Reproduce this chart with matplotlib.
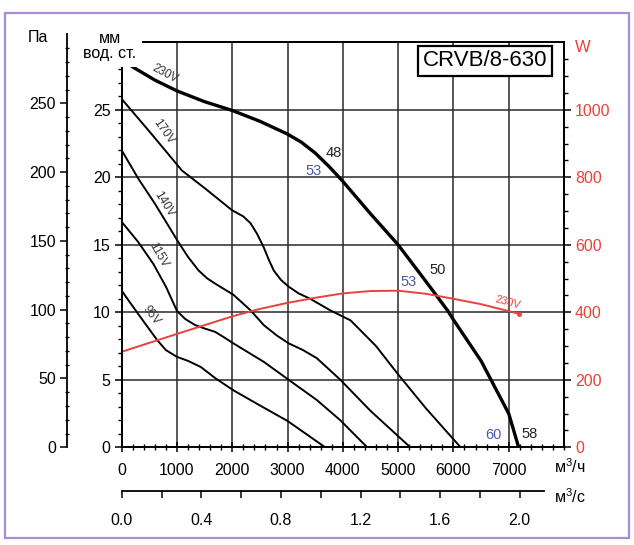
import matplotlib.pyplot as plt
from matplotlib.patches import Rectangle
from matplotlib.ticker import FixedLocator, MultipleLocator

plt.rcParams['font.family'] = ['Liberation Sans', 'DejaVu Sans']
plt.rcParams['mathtext.default'] = 'regular'

# fan curves, flow in m3/h, pressure in mm water column
flow_230 = [0, 270, 600, 1000, 1500, 2000, 2500, 3000, 3250, 3500, 3750, 4000, 4500, 5000, 5500,
            5900, 6000, 6500, 7000, 7180]
mm_230 = [28.7, 28.0, 27.2, 26.4, 25.6, 24.95, 24.15, 23.2, 22.6, 21.8, 20.8, 19.7, 17.3, 15.0, 12.3,
          10.1, 9.45, 6.4, 2.5, 0]

flow_170 = [0, 500, 1090, 1500, 2000, 2200, 2330, 2450, 2570, 2660, 2750, 2880, 3020, 3200, 3410,
            3770, 4140, 4600, 5000, 5500, 6130]
mm_170 = [25.8, 23.4, 20.5, 19.2, 17.55, 17.1, 16.6, 15.8, 14.8, 13.9, 13.1, 12.4, 11.9, 11.4, 11.0,
          10.15, 9.4, 7.5, 5.4, 2.9, 0]

flow_140 = [0, 300, 600, 1025, 1200, 1390, 1550, 1700, 2020, 2330, 2570, 2800, 3020, 3280, 3530,
            3955, 4500, 5220]
mm_140 = [22.0, 19.9, 18.05, 15.2, 14.1, 13.1, 12.5, 12.1, 11.3, 10.15, 9.05, 8.3, 7.7, 7.2, 6.6,
          5.0, 2.7, 0]

flow_115 = [0, 300, 570, 800, 900, 1000, 1150, 1330, 1500, 1690, 1850, 2020, 2570, 3020, 3530,
            3955, 4440]
mm_115 = [16.7, 15.2, 13.6, 11.9, 11.0, 10.1, 9.5, 9.05, 8.8, 8.55, 8.15, 7.7, 6.33, 5.0, 3.5,
          2.0, 0]

flow_95 = [0, 120, 400, 650, 800, 1000, 1200, 1430, 1700, 2030, 2500, 3000, 3680]
mm_95 = [11.6, 10.9, 9.3, 7.9, 7.2, 6.7, 6.4, 5.95, 5.1, 4.2, 3.1, 1.95, 0]

# power at 230V, W
flow_pw = [0, 660, 1000, 1500, 2000, 2500, 3000, 3500, 4000, 4500, 5000, 5500, 6000, 6500, 7180]
power_w = [283, 318, 336, 362, 388, 410, 428, 443, 456, 463, 464, 455, 440, 424, 396]

x_ticks = [0, 1000, 2000, 3000, 4000, 5000, 6000, 7000]
mm_ticks = [0, 5, 10, 15, 20, 25]
pa_ticks = [0, 50, 100, 150, 200, 250]
w_ticks = [0, 200, 400, 600, 800, 1000]
ms_ticks = [0.0, 0.4, 0.8, 1.2, 1.6, 2.0]

W, H = 634, 545
fig = plt.figure(figsize=(W / 100, H / 100), dpi=100)


def fx(px):
    return px / W


def fy(py):
    return 1 - py / H


x0, x1 = 121.7, 564
y0, y1 = 447.3, 42.3
red = '#e8423a'
fs = 11.5

ax = fig.add_axes([fx(x0), fy(y0), fx(x1) - fx(x0), fy(y1) - fy(y0)])
ax.set_xlim(0, 8000)
ax.set_ylim(0, 30)
ax.xaxis.set_major_locator(FixedLocator(x_ticks))
ax.xaxis.set_minor_locator(MultipleLocator(200))
ax.yaxis.set_major_locator(FixedLocator(mm_ticks))
ax.yaxis.set_minor_locator(MultipleLocator(1))
ax.grid(True, which='major', color='#2a2a2a', lw=1.1)
for s in ax.spines.values():
    s.set_linewidth(1.3)
ax.tick_params(axis='x', which='major', direction='inout', length=7, width=1.1,
               labelsize=fs, pad=8)
ax.tick_params(axis='x', which='minor', direction='inout', length=4, width=1)
ax.tick_params(axis='y', which='major', direction='out', length=5, width=1.1,
               labelsize=fs, pad=3)
ax.tick_params(axis='y', which='minor', direction='out', length=3, width=1)

ax.plot(flow_230, mm_230, color='black', lw=2.4, solid_capstyle='round', solid_joinstyle='round')
for f, m in [(flow_170, mm_170), (flow_140, mm_140), (flow_115, mm_115), (flow_95, mm_95)]:
    ax.plot(f, m, color='black', lw=1.4, solid_joinstyle='round')

lab_kw = dict(fontsize=8.5, color='#333333', ha='center', va='center')
ax.text(790, 27.7, '230V', rotation=-28, **lab_kw)
ax.text(760, 23.4, '170V', rotation=-55, **lab_kw)
ax.text(760, 18.0, '140V', rotation=-58, **lab_kw)
ax.text(660, 14.2, '115V', rotation=-60, **lab_kw)
ax.text(540, 9.8, '95V', rotation=-52, **lab_kw)

num_kw = dict(fontsize=10.5, ha='center', va='center')
ax.text(3844, 21.8, '48', color='#222222', **num_kw)
ax.text(3471, 20.5, '53', color='#4a5aa8', **num_kw)
ax.text(5707, 13.1, '50', color='#222222', **num_kw)
ax.text(5192, 12.25, '53', color='#4a5aa8', **num_kw)
ax.text(6732, 0.9, '60', color='#4a5aa8', **num_kw)
ax.text(7384, 1.0, '58', color='#222222', **num_kw)

# power axis
ax_w = ax.twinx()
ax_w.set_ylim(0, 1200)
ax_w.plot(flow_pw, power_w, color=red, lw=1.4)
ax_w.plot(flow_pw[-1], power_w[-1], 'o', color=red, ms=2.5)
ax_w.text(6980, 430, '230V', rotation=-15, fontsize=8, color=red, ha='center', va='center')
ax_w.yaxis.set_major_locator(FixedLocator(w_ticks))
ax_w.yaxis.set_minor_locator(FixedLocator([v for v in range(50, 1200, 50) if v % 200]))
ax_w.tick_params(axis='y', which='major', direction='out', length=5, width=1.1,
                 labelsize=fs, labelcolor=red, pad=3)
ax_w.tick_params(axis='y', which='minor', direction='out', length=3, width=1)
for s in ax_w.spines.values():
    s.set_linewidth(1.3)

# Pa axis
mm_px = (y0 - y1) / 30
pa_top = y0 - 300 / 9.81 * mm_px
ax_pa = fig.add_axes([fx(67), fy(y0), 0.0001, fy(pa_top) - fy(y0)])
ax_pa.set_ylim(0, 300)
ax_pa.patch.set_visible(False)
for k in ['top', 'right', 'bottom']:
    ax_pa.spines[k].set_visible(False)
ax_pa.spines['left'].set_linewidth(1.3)
ax_pa.set_xticks([])
ax_pa.yaxis.set_major_locator(FixedLocator(pa_ticks))
ax_pa.yaxis.set_minor_locator(FixedLocator([v for v in range(10, 300, 10) if v % 50]))
ax_pa.tick_params(axis='y', which='major', direction='out', length=5, width=1.1,
                  labelsize=fs, pad=3)
ax_pa.tick_params(axis='y', which='minor', direction='inout', length=3, width=1)

# m3/s axis
ax_s = fig.add_axes([fx(x0), fy(491), fx(x1) - fx(x0), 0.0001])
ax_s.set_xlim(0, 8000 / 3600)
ax_s.patch.set_visible(False)
for k in ['top', 'right', 'left']:
    ax_s.spines[k].set_visible(False)
ax_s.spines['bottom'].set_linewidth(1.3)
ax_s.spines['bottom'].set_bounds(0, 2.12)
ax_s.set_yticks([])
ax_s.xaxis.set_major_locator(FixedLocator(ms_ticks))
ax_s.xaxis.set_major_formatter(lambda v, p: f'{v:.1f}')
ax_s.xaxis.set_minor_locator(FixedLocator([0.2, 0.6, 1.0, 1.4, 1.8]))
ax_s.tick_params(axis='x', which='both', direction='out', length=5, width=1.1,
                 labelsize=fs, pad=11)

# texts
fig.text(fx(38), fy(38), 'Па', fontsize=fs, ha='center', va='center')
fig.text(fx(110), fy(46), 'мм\nвод. ст.', fontsize=fs, ha='center', va='center',
         linespacing=1.05, bbox=dict(boxstyle='square,pad=0.35', fc='white', ec='none'))
fig.text(fx(583), fy(48), 'W', fontsize=12, color=red, ha='center', va='center')
fig.text(fx(485), fy(61), 'CRVB/8-630', fontsize=16, ha='center', va='center',
         bbox=dict(boxstyle='square,pad=0.2', fc='white', ec='black', lw=1.6))
fig.text(fx(554), fy(467), 'м$^3$/ч', fontsize=fs, ha='left', va='center')
fig.text(fx(554), fy(497), 'м$^3$/с', fontsize=fs, ha='left', va='center')

fig.patches.append(Rectangle((fx(5), fy(538)), fx(629) - fx(5), fy(13) - fy(538),
                             transform=fig.transFigure, fill=False, ec='#a58fcf', lw=1.6))

fig.savefig('out.png', dpi=100)
